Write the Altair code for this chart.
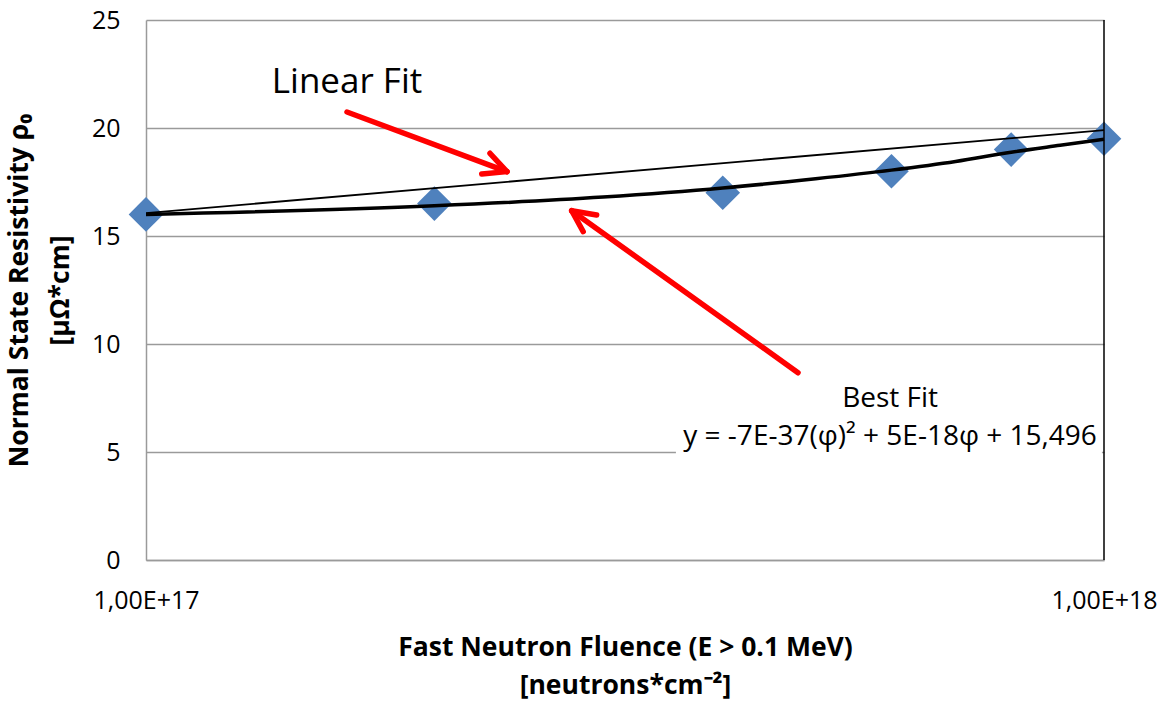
import altair as alt
import pandas as pd

# Measured data points
fluence = [1e17, 2e17, 4e17, 6e17, 8e17, 1e18]
resistivity = [16.0, 16.5, 17.0, 18.0, 19.0, 19.5]

# Best (quadratic) fit curve
fit_fluence = [1e17, 2e17, 3e17, 4e17, 5e17, 6e17, 7e17, 8e17, 9e17, 1e18]
best_fit = [16.0, 16.4, 16.8, 17.22, 17.65, 18.05, 18.45, 18.88, 19.2, 19.48]

# Linear fit line
lin_fluence = [1e17, 1e18]
lin_fit = [16.06, 19.9]

# Red arrows (segments: start -> end), in data coordinates
arrow_x = [1.621e17, 2.286e17, 2.241e17, 4.793e17, 2.954e17, 2.86e17]
arrow_y = [20.74, 18.83, 17.87, 8.67, 15.97, 15.2]
arrow_x2 = [2.381e17, 2.381e17, 2.381e17, 2.782e17, 2.782e17, 2.782e17]
arrow_y2 = [17.98, 17.98, 17.98, 16.17, 16.17, 16.17]

# Equation box background
box_x, box_x2 = [3.574e17], [9.95e17]
box_y, box_y2 = [4.17], [8.33]

# Labels
label_text = ["Linear Fit", "Best Fit", "y = -7E-37(\u03c6)\u00b2 + 5E-18\u03c6 + 15,496"]
label_x = [1.353e17, 5.98e17, 9.83e17]
label_y = [21.63, 7.08, 5.32]
label_size = [35, 28, 28]
label_align = ["left", "center", "right"]

y_ticks = [0, 5, 10, 15, 20, 25]
x_ticks = [1e17, 1e18]
x_title = ["Fast Neutron Fluence (E > 0.1 MeV)", "[neutrons*cm\u207b\u00b2]"]
y_title = ["Normal State Resistivity \u03c1\u2080", "[\u03bc\u03a9*cm]"]

FONT = "Open Sans"
GRID = "#9a9a9a"

xs = alt.Scale(type="log", domain=[1e17, 1e18], nice=False)
ys = alt.Scale(domain=[0, 25], nice=False)

x_axis = alt.Axis(
    values=x_ticks,
    labelExpr="replace(upper(format(datum.value, '.2e')), '.', ',')",
    grid=False, ticks=False, domainColor=GRID, domainWidth=1.5,
    labelFont=FONT, labelFontSize=25, labelColor="#000000", labelPadding=28,
    labelFlush=False,
    title=x_title, titleFont=FONT, titleFontSize=26.5, titleFontWeight="bold",
    titleColor="#000000", titleLineHeight=38, titleX=479, titleY=74,
    titleBaseline="top",
)
y_axis = alt.Axis(
    values=y_ticks, grid=True, gridColor=GRID, gridWidth=1.5, ticks=False,
    domainColor=GRID, domainWidth=1.5,
    labelFont=FONT, labelFontSize=25, labelColor="#000000", labelPadding=26,
    title=y_title, titleFont=FONT, titleFontSize=26.5, titleFontWeight="bold",
    titleColor="#000000", titleLineHeight=41, titleX=-113, titleY=270,
    titleBaseline="bottom", titleAngle=270,
)

X = alt.X("x:Q", scale=xs, axis=x_axis)
Y = alt.Y("y:Q", scale=ys, axis=y_axis)

pts = pd.DataFrame({"x": fluence, "y": resistivity})
best = pd.DataFrame({"x": fit_fluence, "y": best_fit})
lin = pd.DataFrame({"x": lin_fluence, "y": lin_fit})
arrows = pd.DataFrame({"x": arrow_x, "y": arrow_y, "x2": arrow_x2, "y2": arrow_y2})
box = pd.DataFrame({"x": box_x, "x2": box_x2, "y": box_y, "y2": box_y2})
labels = pd.DataFrame({"x": label_x, "y": label_y, "t": label_text,
                       "s": label_size, "a": label_align})
border = pd.DataFrame({"x": [1e18], "y": [0], "y2": [25]})

box_layer = alt.Chart(box).mark_rect(color="white").encode(
    x=X, x2="x2:Q", y=Y, y2="y2:Q")

pts_layer = alt.Chart(pts).mark_point(
    shape="diamond", filled=True, size=1200, color="#4f81bd", opacity=1
).encode(x=X, y=Y)

lin_layer = alt.Chart(lin).mark_line(color="#000000", strokeWidth=1.8).encode(x=X, y=Y)
best_layer = alt.Chart(best).mark_line(
    color="#000000", strokeWidth=3.5, interpolate="monotone").encode(x=X, y=Y)

arrow_layer = alt.Chart(arrows).mark_rule(
    color="#ff0000", strokeWidth=5.5, strokeCap="round").encode(
    x=X, y=Y, x2="x2:Q", y2="y2:Q")

text_layers = []
for i in range(len(label_text)):
    text_layers.append(
        alt.Chart(labels.iloc[[i]]).mark_text(
            font=FONT, fontSize=label_size[i], align=label_align[i],
            baseline="alphabetic", color="#000000"
        ).encode(x=X, y=Y, text="t:N")
    )

border_layer = alt.Chart(border).mark_rule(color="#000000", strokeWidth=1.5).encode(
    x=X, y=Y, y2="y2:Q")

chart = alt.layer(
    box_layer, pts_layer, lin_layer, best_layer, arrow_layer, *text_layers, border_layer
).properties(
    width=958, height=540,
    autosize=alt.AutoSizeParams(type="none"),
    padding={"left": 146, "top": 20, "right": 62, "bottom": 148},
    background="white",
).configure_view(stroke=None)

chart.save("out.html", embed_options={"renderer": "svg", "actions": False})
